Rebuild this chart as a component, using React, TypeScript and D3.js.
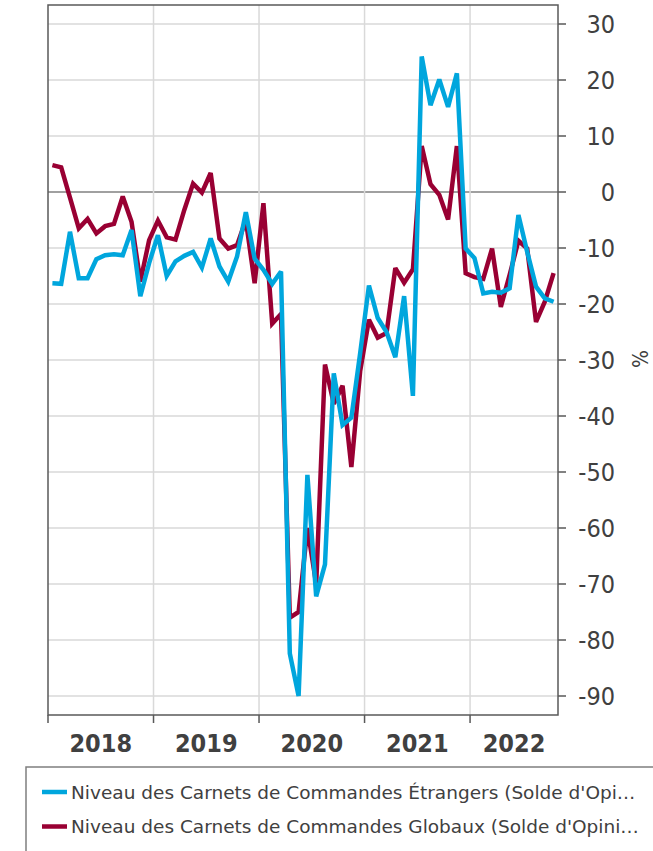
import { useEffect, useRef } from "react";
import * as d3 from "d3";

// Monthly, Jan 2018 .. Oct 2022
const years = ["2018", "2019", "2020", "2021", "2022"];
const yTicks = [30, 20, 10, 0, -10, -20, -30, -40, -50, -60, -70, -80, -90];

const etrangers = [
  -16.3, -16.4, -7.1, -15.4, -15.4, -12, -11.3, -11.1, -11.3, -6.8, -18.6, -12.7,
  -7.7, -15, -12.4, -11.4, -10.7, -13.5, -8.3, -13.3, -16, -11.5, -3.6, -11.9,
  -13.9, -16.4, -14.2, -82.4, -90, -50.5, -72.2, -66.5, -32.4, -41.6, -40.3, -28.8,
  -16.7, -22.5, -25, -29.5, -18.6, -36.4, 24.2, 15.5, 20.1, 15.2, 21.2, -10.1,
  -11.8, -18.1, -17.8, -18, -17.2, -4.1, -10.7, -16.9, -19, -19.6,
];

const globaux = [
  4.8, 4.4, -1, -6.5, -4.8, -7.4, -6.1, -5.7, -0.8, -5.3, -16, -8.6,
  -5.1, -8.1, -8.5, -3.2, 1.5, -0.1, 3.4, -8.3, -10.1, -9.5, -5, -16.3,
  -2, -23.5, -21.8, -76, -75, -60, -70, -30.8, -37.8, -34.6, -49.1, -32,
  -22.8, -26, -25.2, -13.6, -16.2, -13.8, 8.2, 1.4, -0.5, -4.9, 8.2, -14.5,
  -15.2, -15.5, -10.1, -20.5, -14.8, -8.7, -10.1, -23.2, -19.6, -14.5,
];

const seriesNames = [
  "Niveau des Carnets de Commandes Étrangers (Solde d'Opi…",
  "Niveau des Carnets de Commandes Globaux (Solde d'Opini…",
];

const BLUE = "#00a6dd";
const RED = "#990033";
const FONT = "'DejaVu Sans Condensed', 'DejaVu Sans', sans-serif";
const LEGEND_FONT = "'DejaVu Sans', sans-serif";

export default function App() {
  const svgRef = useRef<SVGSVGElement | null>(null);

  useEffect(() => {
    if (!svgRef.current) return;
    const W = 653;
    const H = 851;
    const left = 48, right = 558, top = 5, bottom = 715;

    const svg = d3.select(svgRef.current);
    svg.selectAll("*").remove();
    svg.attr("width", W).attr("height", H);

    const n = etrangers.length;
    const x = d3.scaleLinear().domain([0, n]).range([left, right]);
    const y = d3.scaleLinear().domain([-90, 30]).range([696, 24]);

    // horizontal grid
    svg.append("g")
      .selectAll("line")
      .data(yTicks)
      .join("line")
      .attr("x1", left)
      .attr("x2", right)
      .attr("y1", (d) => y(d))
      .attr("y2", (d) => y(d))
      .attr("stroke", (d) => (d === 0 ? "#808080" : "#d9d9d9"))
      .attr("stroke-width", 1.5);

    // vertical grid at year starts
    const yearStarts = years.map((_, i) => i * 12);
    svg.append("g")
      .selectAll("line")
      .data(yearStarts.slice(1))
      .join("line")
      .attr("x1", (d) => x(d))
      .attr("x2", (d) => x(d))
      .attr("y1", top)
      .attr("y2", bottom)
      .attr("stroke", "#d9d9d9")
      .attr("stroke-width", 1.5);

    // frame
    svg.append("rect")
      .attr("x", left)
      .attr("y", top)
      .attr("width", right - left)
      .attr("height", bottom - top)
      .attr("fill", "none")
      .attr("stroke", "#595959")
      .attr("stroke-width", 1.5);

    // right axis ticks + labels
    const yAxis = svg.append("g");
    yAxis.selectAll("line")
      .data(yTicks)
      .join("line")
      .attr("x1", right)
      .attr("x2", right + 8)
      .attr("y1", (d) => y(d))
      .attr("y2", (d) => y(d))
      .attr("stroke", "#595959")
      .attr("stroke-width", 1.5);
    yAxis.selectAll("text")
      .data(yTicks)
      .join("text")
      .attr("x", 615)
      .attr("y", (d) => y(d) + 9)
      .attr("text-anchor", "end")
      .attr("font-family", FONT)
      .attr("font-size", 25)
      .attr("fill", "#404040")
      .text((d) => String(d));

    svg.append("text")
      .attr("transform", `translate(632,359) rotate(90)`)
      .attr("text-anchor", "middle")
      .attr("font-family", FONT)
      .attr("font-size", 21)
      .attr("fill", "#404040")
      .text("%");

    // bottom ticks + year labels
    svg.append("g")
      .selectAll("line")
      .data(yearStarts)
      .join("line")
      .attr("x1", (d) => x(d))
      .attr("x2", (d) => x(d))
      .attr("y1", bottom)
      .attr("y2", bottom + 8)
      .attr("stroke", "#595959")
      .attr("stroke-width", 1.5);
    svg.append("g")
      .selectAll("text")
      .data(years)
      .join("text")
      .attr("x", (_, i) => (x(i * 12) + x(Math.min((i + 1) * 12, n))) / 2)
      .attr("y", 752)
      .attr("text-anchor", "middle")
      .attr("font-family", FONT)
      .attr("font-size", 25)
      .attr("font-weight", "bold")
      .attr("fill", "#404040")
      .text((d) => d);

    // lines
    const line = d3.line<number>()
      .x((_, i) => x(i + 0.5))
      .y((d) => y(d));

    [
      { data: globaux, color: RED },
      { data: etrangers, color: BLUE },
    ].forEach((s) => {
      svg.append("path")
        .datum(s.data)
        .attr("d", line)
        .attr("fill", "none")
        .attr("stroke", s.color)
        .attr("stroke-width", 4.5)
        .attr("stroke-linejoin", "miter")
        .attr("stroke-miterlimit", 3);
    });

    // legend
    const lg = svg.append("g");
    lg.append("path")
      .attr("d", `M26,${H + 5}V767H${W + 5}`)
      .attr("fill", "none")
      .attr("stroke", "#7f7f7f")
      .attr("stroke-width", 1.5);
    [BLUE, RED].forEach((c, i) => {
      const cy = 792 + i * 34.5;
      lg.append("line")
        .attr("x1", 42)
        .attr("x2", 67)
        .attr("y1", cy)
        .attr("y2", cy)
        .attr("stroke", c)
        .attr("stroke-width", 4.5);
      lg.append("text")
        .attr("x", 71)
        .attr("y", cy + 6.5)
        .attr("font-family", LEGEND_FONT)
        .attr("font-size", 18.5)
        .attr("fill", "#404040")
        .text(seriesNames[i]);
    });
  }, []);

  return (
    <div style={{ position: "absolute", left: 0, top: 0, background: "#fff" }}>
      <svg ref={svgRef} style={{ display: "block" }} />
    </div>
  );
}
